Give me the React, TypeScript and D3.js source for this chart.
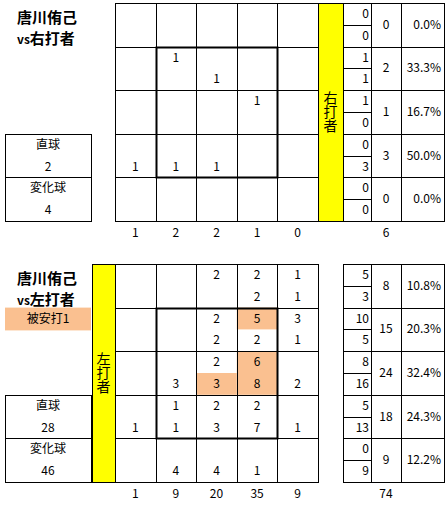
import React from 'react';
import * as d3 from 'd3';

const pitcherName = '唐川侑己';

// vs 右打者
const rightLabel = '右打者';
const rightUpper: (number | null)[][] = [
  [null, null, null, null, null],
  [null, 1, null, null, null],
  [null, null, null, 1, null],
  [null, null, null, null, null],
  [null, null, null, null, null],
];
const rightLower: (number | null)[][] = [
  [null, null, null, null, null],
  [null, null, 1, null, null],
  [null, null, null, null, null],
  [1, 1, 1, null, null],
  [null, null, null, null, null],
];
const rightRowUp = [0, 1, 1, 0, 0];
const rightRowLo = [0, 1, 0, 3, 0];
const rightRowTotal = [0, 2, 1, 3, 0];
const rightPct = ['0.0%', '33.3%', '16.7%', '50.0%', '0.0%'];
const rightColTotal = [1, 2, 2, 1, 0];
const rightTotal = 6;
const rightPitch = ['直球', '2', '変化球', '4'];

// vs 左打者
const leftLabel = '左打者';
const leftUpper: (number | null)[][] = [
  [null, null, 2, 2, 1],
  [null, null, 2, 5, 3],
  [null, null, 2, 6, null],
  [null, 1, 2, 2, null],
  [null, null, null, null, null],
];
const leftLower: (number | null)[][] = [
  [null, null, null, 2, 1],
  [null, null, 2, 2, 1],
  [null, 3, 3, 8, 2],
  [1, 1, 3, 7, 1],
  [null, 4, 4, 1, null],
];
// hit cells [row, col]
const leftUpperHits: [number, number][] = [[1, 3], [2, 3]];
const leftLowerHits: [number, number][] = [[2, 2], [2, 3]];
const leftRowUp = [5, 10, 8, 5, 0];
const leftRowLo = [3, 5, 16, 13, 9];
const leftRowTotal = [8, 15, 24, 18, 9];
const leftPct = ['10.8%', '20.3%', '32.4%', '24.3%', '12.2%'];
const leftColTotal = [1, 9, 20, 35, 9];
const leftTotal = 74;
const leftPitch = ['直球', '28', '変化球', '46'];
const hitLabel = '被安打1';

const FONT = '"Noto Sans CJK JP", sans-serif';
const HIT = '#FAC090';
const YELLOW = '#FFFF00';
const idx = [0, 1, 2, 3, 4];

interface PanelProps {
  top: number;
  side: 'right' | 'left';
  label: string;
  upper: (number | null)[][];
  lower: (number | null)[][];
  upperHits: [number, number][];
  lowerHits: [number, number][];
  rowUp: number[];
  rowLo: number[];
  rowTotal: number[];
  pct: string[];
  colTotal: number[];
  total: number;
  pitch: string[];
  hit?: string;
}

const Panel: React.FC<PanelProps> = (p) => {
  const x = d3.scaleBand<number>().domain(idx).range([115, 318]);
  const y = d3.scaleBand<number>().domain(idx).range([p.top, p.top + 218]);
  const bw = x.bandwidth();
  const bh = y.bandwidth();
  const gBottom = p.top + 218;
  const yellowX = p.side === 'right' ? 318 : 92;
  const yellowW = p.side === 'right' ? 25 : 23;
  const tX = 343;
  const c = (v: number) => Math.round(v) + 0.5;

  return (
    <g fontFamily={FONT} fontSize={12}>
      <text x={17} y={p.top + 20} fontSize={15} fontWeight="bold">{pitcherName}</text>
      <text x={17} y={p.top + 41} fontSize={15} fontWeight="bold">
        <tspan fontSize={12}>vs</tspan>
        <tspan>{p.label}</tspan>
      </text>
      {p.hit && (
        <g>
          <rect x={5} y={y(1)} width={86} height={bh / 2 + 1} fill={HIT} />
          <text x={48} y={y(1)! + bh / 4 + 4} textAnchor="middle">{p.hit}</text>
        </g>
      )}
      {/* pitch type box */}
      <rect x={c(5)} y={c(y(3)!)} width={86} height={Math.round(bh * 2)} fill="none" stroke="#000" shapeRendering="crispEdges" />
      <line x1={5} x2={92} y1={c(y(4)!)} y2={c(y(4)!)} stroke="#000" shapeRendering="crispEdges" />
      {p.pitch.map((t, i) => (
        <text key={i} x={48} y={y(3)! + (bh / 2) * (i + 0.5) + 4} textAnchor="middle">{t}</text>
      ))}
      {/* yellow bar */}
      <rect x={yellowX} y={p.top} width={yellowW} height={218} fill={YELLOW} stroke="#000" shapeRendering="crispEdges" />
      <text
        x={yellowX + yellowW / 2}
        y={p.top + 109}
        textAnchor="middle"
        fontSize={14}
        style={{ writingMode: 'vertical-rl' } as React.CSSProperties}
      >
        {p.label}
      </text>
      {/* hit highlights */}
      {p.upperHits.map(([r, k], i) => (
        <rect key={'u' + i} x={x(k)} y={y(r)} width={bw} height={bh / 2} fill={HIT} />
      ))}
      {p.lowerHits.map(([r, k], i) => (
        <rect key={'l' + i} x={x(k)} y={y(r)! + bh / 2} width={bw} height={bh / 2} fill={HIT} />
      ))}
      {/* grid */}
      {[...idx, 5].map((k) => {
        const xx = c(k < 5 ? x(k)! : 318);
        return <line key={'v' + k} x1={xx} x2={xx} y1={p.top} y2={gBottom + 1} stroke="#000" shapeRendering="crispEdges" />;
      })}
      {[...idx, 5].map((r) => {
        const yy = c(r < 5 ? y(r)! : gBottom);
        return <line key={'h' + r} x1={115} x2={319} y1={yy} y2={yy} stroke="#000" shapeRendering="crispEdges" />;
      })}
      {/* strike zone */}
      <rect
        x={Math.round(x(1)!) + 0.5}
        y={Math.round(y(1)!) + 0.5}
        width={Math.round(x(4)!) - Math.round(x(1)!)}
        height={Math.round(y(4)!) - Math.round(y(1)!)}
        fill="none"
        stroke="#000"
        strokeWidth={2}
      />
      {/* cell counts */}
      {idx.map((r) =>
        idx.map((k) => (
          <g key={r + '-' + k}>
            {p.upper[r][k] !== null && (
              <text x={x(k)! + bw / 2} y={y(r)! + bh / 4 + 4} textAnchor="middle">{p.upper[r][k]}</text>
            )}
            {p.lower[r][k] !== null && (
              <text x={x(k)! + bw / 2} y={y(r)! + bh * 0.75 + 4} textAnchor="middle">{p.lower[r][k]}</text>
            )}
          </g>
        )),
      )}
      {/* column totals */}
      {p.colTotal.map((v, k) => (
        <text key={'ct' + k} x={x(k)! + bw / 2} y={gBottom + 16} textAnchor="middle">{v}</text>
      ))}
      {/* right table */}
      <rect x={c(tX)} y={c(p.top)} width={444 - tX} height={218} fill="none" stroke="#000" shapeRendering="crispEdges" />
      {[371, 401].map((cx) => (
        <line key={'tc' + cx} x1={c(cx)} x2={c(cx)} y1={p.top} y2={gBottom} stroke="#000" shapeRendering="crispEdges" />
      ))}
      {idx.slice(1).map((r) => (
        <line key={'tr' + r} x1={tX} x2={444} y1={c(y(r)!)} y2={c(y(r)!)} stroke="#000" shapeRendering="crispEdges" />
      ))}
      {idx.map((r) => (
        <g key={'t' + r}>
          <line x1={tX} x2={371} y1={c(y(r)! + bh / 2)} y2={c(y(r)! + bh / 2)} stroke="#000" shapeRendering="crispEdges" />
          <text x={369} y={y(r)! + bh / 4 + 4} textAnchor="end">{p.rowUp[r]}</text>
          <text x={369} y={y(r)! + bh * 0.75 + 4} textAnchor="end">{p.rowLo[r]}</text>
          <text x={386} y={y(r)! + bh / 2 + 4} textAnchor="middle">{p.rowTotal[r]}</text>
          <text x={441} y={y(r)! + bh / 2 + 4} textAnchor="end">{p.pct[r]}</text>
        </g>
      ))}
      <text x={386} y={gBottom + 16} textAnchor="middle">{p.total}</text>
    </g>
  );
};

export default function App() {
  return (
    <svg width={448} height={507} style={{ position: 'absolute', left: 0, top: 0, background: '#fff' }}>
      <rect width={448} height={507} fill="#fff" />
      <Panel
        top={3}
        side="right"
        label={rightLabel}
        upper={rightUpper}
        lower={rightLower}
        upperHits={[]}
        lowerHits={[]}
        rowUp={rightRowUp}
        rowLo={rightRowLo}
        rowTotal={rightRowTotal}
        pct={rightPct}
        colTotal={rightColTotal}
        total={rightTotal}
        pitch={rightPitch}
      />
      <Panel
        top={264}
        side="left"
        label={leftLabel}
        upper={leftUpper}
        lower={leftLower}
        upperHits={leftUpperHits}
        lowerHits={leftLowerHits}
        rowUp={leftRowUp}
        rowLo={leftRowLo}
        rowTotal={leftRowTotal}
        pct={leftPct}
        colTotal={leftColTotal}
        total={leftTotal}
        pitch={leftPitch}
        hit={hitLabel}
      />
    </svg>
  );
}
